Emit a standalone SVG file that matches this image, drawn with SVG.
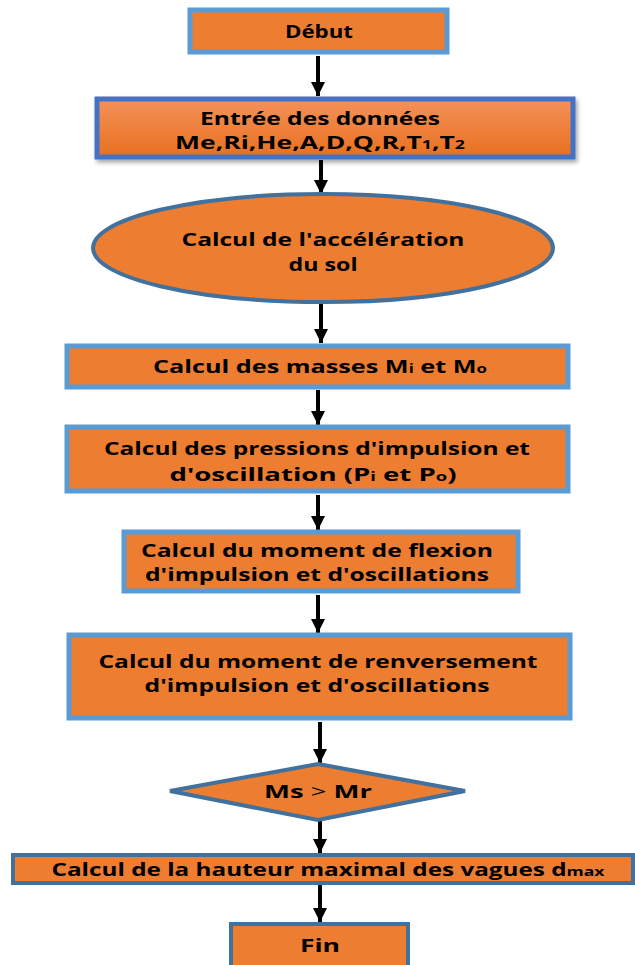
<svg xmlns="http://www.w3.org/2000/svg" width="635" height="965" viewBox="0 0 635 965">
<defs>
<style>
.box{fill:#ED7D31;stroke:#5B9BD5;stroke-width:5}
.dark{fill:#ED7D31;stroke:#41719C;stroke-width:4}
.t{font-family:"Open Sans","Liberation Sans",sans-serif;font-weight:bold;font-size:18px;fill:#000;text-anchor:middle}
.sub{font-size:12px}
.conn line{stroke:#000;stroke-width:4}
</style>
<linearGradient id="g1" x1="0" y1="0" x2="0" y2="1">
<stop offset="0" stop-color="#F4925A"/>
<stop offset="1" stop-color="#E8701F"/>
</linearGradient>
<filter id="sh" x="-5%" y="-20%" width="110%" height="150%">
<feDropShadow dx="2" dy="3" stdDeviation="2" flood-color="#000" flood-opacity="0.35"/>
</filter>
<marker id="ah" viewBox="0 0 10 10" refX="10" refY="5" markerWidth="3.6" markerHeight="3.6" markerUnits="strokeWidth" orient="auto">
<path d="M0,0 L10,5 L0,10 Z" fill="#000"/>
</marker>
</defs>
<rect width="635" height="965" fill="#fff"/>

<g class="conn">
<line x1="318" y1="56" x2="318" y2="96" marker-end="url(#ah)"/>
<line x1="321" y1="160" x2="321" y2="194" marker-end="url(#ah)"/>
<line x1="321" y1="304" x2="321" y2="343" marker-end="url(#ah)"/>
<line x1="318" y1="390" x2="318" y2="425" marker-end="url(#ah)"/>
<line x1="318" y1="495" x2="318" y2="530" marker-end="url(#ah)"/>
<line x1="318" y1="595" x2="318" y2="633" marker-end="url(#ah)"/>
<line x1="320" y1="722" x2="320" y2="763" marker-end="url(#ah)"/>
<line x1="320" y1="821" x2="320" y2="853" marker-end="url(#ah)"/>
<line x1="320" y1="885" x2="320" y2="922" marker-end="url(#ah)"/>
</g>

<g id="debut">
<rect class="box" x="190" y="10" width="257" height="42"/>
<text class="t" x="319" y="38" textLength="68" lengthAdjust="spacingAndGlyphs">Début</text>
</g>

<g id="entree">
<rect x="97" y="99" width="476" height="58" fill="url(#g1)" stroke="#4472C4" stroke-width="5" filter="url(#sh)"/>
<text class="t" x="320" y="125" textLength="240" lengthAdjust="spacingAndGlyphs">Entrée des données</text>
<text class="t" x="320" y="149" textLength="290" lengthAdjust="spacingAndGlyphs">Me,Ri,He,A,D,Q,R,T<tspan class="sub">1</tspan>,T<tspan class="sub">2</tspan></text>
</g>

<g id="acceleration">
<ellipse class="dark" cx="323" cy="248" rx="230" ry="54"/>
<text class="t" x="323" y="246" textLength="283" lengthAdjust="spacingAndGlyphs">Calcul de l'accélération</text>
<text class="t" x="323" y="271" textLength="69" lengthAdjust="spacingAndGlyphs">du sol</text>
</g>

<g id="masses">
<rect class="box" x="67" y="346" width="501" height="41"/>
<text class="t" x="320" y="373" textLength="334" lengthAdjust="spacingAndGlyphs">Calcul des masses M<tspan class="sub">i</tspan> et M<tspan class="sub">o</tspan></text>
</g>

<g id="pressions">
<rect class="box" x="67" y="427" width="501" height="64"/>
<text class="t" x="317" y="455" textLength="426" lengthAdjust="spacingAndGlyphs">Calcul des pressions d'impulsion et</text>
<text class="t" x="313" y="481" textLength="287" lengthAdjust="spacingAndGlyphs">d'oscillation (P<tspan class="sub">i</tspan> et P<tspan class="sub">o</tspan>)</text>
</g>

<g id="flexion">
<rect class="box" x="124" y="532" width="394" height="59"/>
<text class="t" x="317" y="557" textLength="352" lengthAdjust="spacingAndGlyphs">Calcul du  moment de flexion</text>
<text class="t" x="317" y="581" textLength="344" lengthAdjust="spacingAndGlyphs">d'impulsion et d'oscillations</text>
</g>

<g id="renversement">
<rect class="box" x="69" y="635" width="501" height="83"/>
<text class="t" x="318" y="668" textLength="439" lengthAdjust="spacingAndGlyphs">Calcul du  moment de renversement</text>
<text class="t" x="317" y="692" textLength="345" lengthAdjust="spacingAndGlyphs">d'impulsion et d'oscillations</text>
</g>

<g id="condition">
<polygon class="dark" points="318,764 465,791 318,820 170,791"/>
<text class="t" x="318" y="798" textLength="108" lengthAdjust="spacingAndGlyphs">Ms <tspan font-weight="normal">&gt;</tspan> Mr</text>
</g>

<g id="hauteur">
<rect class="dark" x="13" y="855" width="620" height="28" stroke-width="4"/>
<text class="t" x="328" y="876" textLength="553" lengthAdjust="spacingAndGlyphs">Calcul de la hauteur maximal des vagues d<tspan font-size="13">max</tspan></text>
</g>

<g id="fin">
<rect class="dark" x="231" y="924" width="177" height="45"/>
<text class="t" x="320" y="952" textLength="40" lengthAdjust="spacingAndGlyphs">Fin</text>
</g>
</svg>
